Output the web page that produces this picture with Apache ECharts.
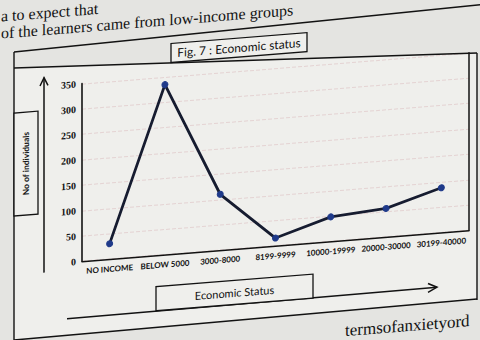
<!DOCTYPE html>
<html>
<head>
<meta charset="utf-8">
<script src="https://cdn.jsdelivr.net/npm/echarts@6/dist/echarts.min.js"></script>
<style>
  html, body { margin: 0; padding: 0; width: 480px; height: 340px; overflow: hidden; background: #e4e4e1; }
  /* the printed page sits slightly askew */
  #sheet { position: absolute; left: -20px; top: -40px; width: 520px; height: 420px;
           transform: skewY(-4.57deg); transform-origin: 260px 210px; }
</style>
</head>
<body>
<div id="sheet"></div>
<script>
// Fig. 7 : Economic status — number of individuals per income band
const categories = ['NO INCOME', 'BELOW 5000', '3000-8000', '8199-9999', '10000-19999', '20000-30000', '30199-40000'];
const individuals = [30, 335, 110, 15, 48, 56, 88];
const yMin = 0, yMax = 350, yStep = 50;

const titleText = 'Fig. 7 : Economic status';
const yTitle = 'No of individuals';
const xTitle = 'Economic Status';
const pageLineTop1 = 'a to expect that';
const pageLineTop2 = 'of the learners came from low-income groups';
const pageLineBottom = 'termsofanxietyord';

// page-space offset inside the oversized sheet
const OX = 20, OY = 40;
const ink = '#121212';
const paper = '#efefec';

function line(x1, y1, x2, y2, w) {
  return { type: 'line', silent: true, z: 1,
    shape: { x1: x1 + OX, y1: y1 + OY, x2: x2 + OX, y2: y2 + OY },
    style: { stroke: ink, lineWidth: w || 1.4 } };
}
function polyline(pts, w) {
  return { type: 'polyline', silent: true, z: 1,
    shape: { points: pts.map(p => [p[0] + OX, p[1] + OY]) },
    style: { stroke: ink, lineWidth: w || 1.4, fill: null } };
}
function box(x, y, w, h) {
  return { type: 'rect', silent: true, z: 2,
    shape: { x: x + OX, y: y + OY, width: w, height: h },
    style: { fill: paper, stroke: ink, lineWidth: 1.3 } };
}
function label(text, x, y, font, rot, align) {
  return { type: 'text', silent: true, z: 3, x: x + OX, y: y + OY, rotation: rot || 0,
    style: { text: text, font: font, fill: ink, align: align || 'center', verticalAlign: 'middle' } };
}

const chart = echarts.init(document.getElementById('sheet'), null, { renderer: 'svg' });

chart.setOption({
  animation: false,
  backgroundColor: 'transparent',
  grid: { left: 82 + OX, right: 520 - (469 + OX), top: 71 + OY, bottom: 420 - (248.5 + OY) },
  xAxis: [
    {
      type: 'category', data: categories, position: 'bottom',
      axisLine: { show: false }, axisTick: { show: false },
      axisLabel: { interval: 0, margin: 6, color: ink, fontFamily: 'Lato', fontWeight: 700, fontSize: 8 }
    },
    {
      type: 'category', data: categories, position: 'top',
      axisLine: { show: true, lineStyle: { color: ink, width: 1.5 } },
      axisTick: { show: false }, axisLabel: { show: false }
    }
  ],
  yAxis: [
    {
      type: 'value', min: yMin, max: yMax, interval: yStep,
      axisLine: { show: true, lineStyle: { color: ink, width: 1.6 } },
      axisTick: { show: false },
      axisLabel: { margin: 6, color: ink, fontFamily: 'Liberation Serif', fontWeight: 700, fontSize: 10 },
      splitLine: { show: true, lineStyle: { type: 'dashed', color: 'rgba(200,130,140,0.25)', width: 1 } }
    },
    {
      type: 'value', position: 'right', min: yMin, max: yMax, interval: yStep,
      axisLine: { show: true, lineStyle: { color: ink, width: 1.5 } },
      axisTick: { show: false }, axisLabel: { show: false }, splitLine: { show: false }
    }
  ],
  series: [{
    type: 'line',
    data: individuals,
    symbol: 'circle',
    symbolSize: 6,
    lineStyle: { color: '#161c30', width: 2.8 },
    itemStyle: { color: '#1f3a8a', borderColor: '#1f3a8a' },
    z: 5
  }],
  graphic: [
    // chart frame on the page
    { type: 'polygon', silent: true, z: 0,
      shape: { points: [[14 + OX, 50 + OY], [477 + OX, 72 + OY], [477 + OX, 319 + OY], [14 + OX, 322 + OY]] },
      style: { fill: paper } },
    line(14, 34, 480, 24),
    line(14, 50, 477, 72),
    line(14, 34, 14, 340),
    line(477, 72, 477, 319),
    line(14, 322, 477, 318),
    // title
    box(171, 38, 136, 19),
    label(titleText, 239, 47.5, '12px Lato'),
    // vertical axis arrow and caption
    line(44, 257, 44, 62, 1.5),
    polyline([[40, 70], [44, 62], [48, 70]], 1.5),
    box(14, 95, 24, 103),
    label(yTitle, 26, 146.5, 'bold 8.5px Lato', Math.PI / 2),
    // horizontal axis arrow and caption
    line(67, 305, 437, 303, 1.5),
    polyline([[428, 298.5], [437, 303], [428, 307.5]], 1.5),
    box(156, 280, 157, 24),
    label(xTitle, 234.5, 292, '11px Lato'),
    // surrounding book text
    label(pageLineTop1, 1, -3, '16px "Liberation Serif"', 0, 'left'),
    label(pageLineTop2, 1, 14, '16px "Liberation Serif"', 0, 'left'),
    label(pageLineBottom, 345, 339, '17px "Liberation Serif"', 0, 'left')
  ]
});
</script>
</body>
</html>
